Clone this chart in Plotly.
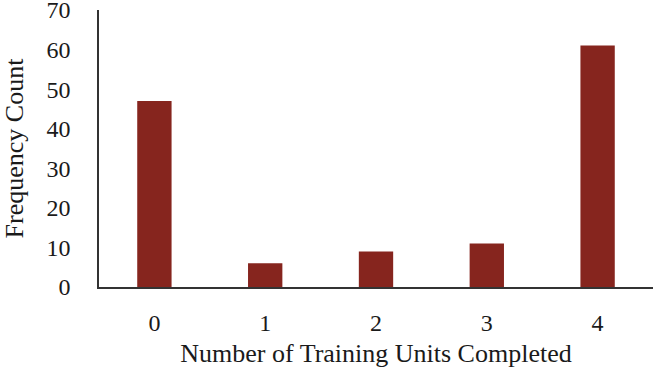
import plotly.graph_objects as go

categories = ["0", "1", "2", "3", "4"]
counts = [47, 6, 9, 11, 61]
y_ticks = [0, 10, 20, 30, 40, 50, 60, 70]

FONT = "Liberation Serif"

fig = go.Figure(go.Bar(
    x=categories, y=counts,
    marker=dict(color="#86251E", line=dict(width=0)),
    width=0.31,
))

fig.update_layout(
    width=653, height=368,
    margin=dict(l=99, r=0, t=10, b=81),
    paper_bgcolor="white", plot_bgcolor="white",
    font=dict(family=FONT, size=24, color="#1a1a1a"),
    showlegend=False,
)

fig.update_xaxes(
    type="category", automargin=False,
    showline=True, linecolor="#333333", linewidth=2,
    showgrid=False, ticks="", ticklabelstandoff=13,
    tickfont=dict(family=FONT, size=24),
    title=dict(text="Number of Training Units Completed", font=dict(family=FONT, size=26), standoff=12),
)

fig.update_yaxes(
    range=[0, 70], tickvals=y_ticks, automargin=False,
    ticklabeloverflow="allow",
    showline=True, linecolor="#333333", linewidth=1.5,
    showgrid=False, zeroline=False, ticks="", ticklabelstandoff=22,
    tickfont=dict(family=FONT, size=24),
    title=dict(text="Frequency Count", font=dict(family=FONT, size=26), standoff=17),
)

fig.write_html("out.html", full_html=True, config={"displayModeBar": False},
               post_script="document.body.style.margin='0';document.body.style.padding='0';")
